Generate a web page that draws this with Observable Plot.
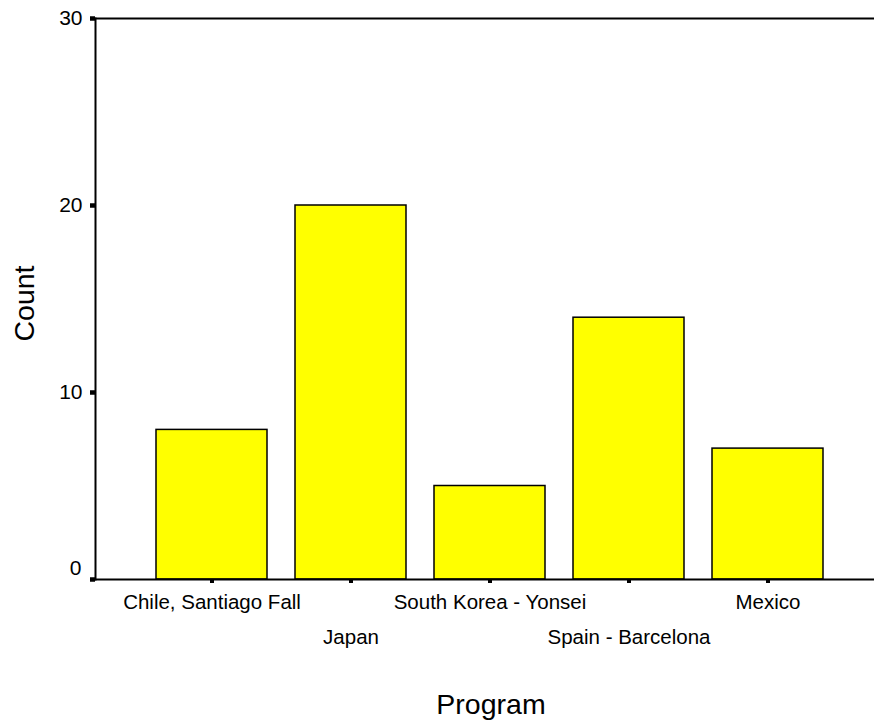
<!DOCTYPE html>
<html>
<head>
<meta charset="utf-8">
<script src="https://cdn.jsdelivr.net/npm/d3@7"></script>
<script src="https://cdn.jsdelivr.net/npm/@observablehq/plot@0.6"></script>
<style>
  html, body { margin: 0; padding: 0; background: #fff; }
  #chart svg { display: block; }
</style>
</head>
<body>
<div id="chart"></div>
<script>
const programs = ["Chile, Santiago Fall", "Japan", "South Korea - Yonsei", "Spain - Barcelona", "Mexico"];
const counts = [8, 20, 5, 14, 7];
const yTicks = [0, 10, 20, 30];
const xTitle = "Program";
const yTitle = "Count";

const data = programs.map((p, i) => ({program: p, count: counts[i]}));
const rowA = programs.filter((_, i) => i % 2 === 0);
const rowB = programs.filter((_, i) => i % 2 === 1);
const font = "'Liberation Sans', Arial, Helvetica, sans-serif";

const chart = Plot.plot({
  width: 874,
  height: 721,
  marginLeft: 95,
  marginRight: 0,
  marginTop: 18,
  marginBottom: 142,
  style: {fontFamily: font, color: "black", background: "white"},
  x: {domain: programs, paddingInner: 0.2, paddingOuter: 0.392, align: 0.55, axis: null},
  y: {domain: [0, 30], axis: null},
  marks: [
    Plot.barY(data, {x: "program", y: "count", fill: "#ffff00", stroke: "black", strokeWidth: 1.5}),
    Plot.ruleY([0, 30], {stroke: "black", strokeWidth: 2}),
    Plot.frame({anchor: "left", stroke: "black", strokeWidth: 2}),
    // x ticks + staggered labels
    Plot.axisX({ticks: rowA, tickSize: 4, tickPadding: 11, strokeWidth: 4, fontSize: 20.5, label: null}),
    Plot.axisX({ticks: rowB, tickSize: 4, tickPadding: 46, strokeWidth: 4, fontSize: 20.5, label: null}),
    // y tick marks
    Plot.axisY({ticks: yTicks, tickSize: 5, strokeWidth: 4.5, tickFormat: () => "", label: null}),
    // y tick labels
    Plot.axisY({ticks: yTicks.filter(t => t !== 0), tickSize: 0, tickPadding: 13, fontSize: 21, label: null}),
    Plot.axisY({ticks: [0], tickSize: 0, tickPadding: 14, dy: -11, fontSize: 21, label: null}),
    // axis titles
    Plot.text([xTitle], {text: d => d, frameAnchor: "bottom", textAnchor: "middle", lineAnchor: "bottom", dx: 6, dy: 134, fontSize: 28.5}),
    Plot.text([yTitle], {text: d => d, frameAnchor: "left", textAnchor: "middle", lineAnchor: "bottom", rotate: -90, dx: -62, dy: 4.5, fontSize: 28.5})
  ]
});
document.getElementById("chart").appendChild(chart);
</script>
</body>
</html>
